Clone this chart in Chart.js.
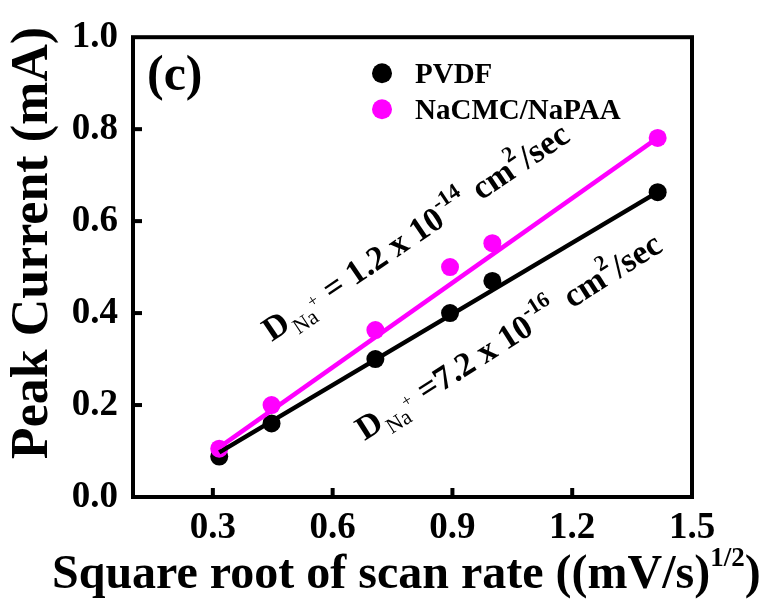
<!DOCTYPE html>
<html lang="en">
<head>
    <meta charset="UTF-8">
    <title>Peak Current vs Scan Rate</title>
    <script src="https://cdn.jsdelivr.net/npm/chart.js"></script>
    <style>
        body { margin: 0; background: #fff; }
        #chart { display: block; }
    </style>
</head>
<body>
    <canvas id="chart" width="774" height="604"></canvas>
    <script>
        // square root of scan rate, (mV/s)^1/2
        const sqrtRate = [0.316, 0.447, 0.707, 0.894, 1.0, 1.414];
        const pvdf = [0.088, 0.16, 0.30, 0.40, 0.47, 0.663];
        const nacmc = [0.105, 0.20, 0.363, 0.50, 0.552, 0.781];

        // linear fit lines (end points)
        const fitX = [0.316, 1.414];
        const pvdfFit = [0.097, 0.663];
        const nacmcFit = [0.108, 0.781];

        const xTicks = [0.3, 0.6, 0.9, 1.2, 1.5];
        const yTicks = [0.0, 0.2, 0.4, 0.6, 0.8, 1.0];

        const FONT = '"Liberation Serif", "Times New Roman", serif';
        const PINK = '#ff00ff';

        const toPts = (xs, ys) => xs.map((x, i) => ({ x: x, y: ys[i] }));

        // draw a run of text pieces (sub/superscripts) along a rotated baseline
        function drawRich(ctx, parts, x, y, angle) {
            ctx.save();
            ctx.translate(x, y);
            ctx.rotate(angle * Math.PI / 180);
            ctx.fillStyle = '#000';
            ctx.textBaseline = 'alphabetic';
            ctx.textAlign = 'left';
            let cx = 0;
            parts.forEach(p => {
                ctx.font = (p.w || 'bold') + ' ' + p.s + 'px ' + FONT;
                cx += p.dx || 0;
                ctx.fillText(p.t, cx, p.dy || 0);
                cx += ctx.measureText(p.t).width;
            });
            ctx.restore();
            return cx;
        }

        const annotations = [
            { x: 0.4475, y: 0.337, angle: -34, parts: [
                { t: 'D', s: 34 },
                { t: 'Na', s: 22, w: 'normal', dy: 9, dx: 2 },
                { t: '+', s: 17, w: 'normal', dy: -6 },
                { t: ' = 1.2 x 10', s: 34, dx: 2 },
                { t: '-14', s: 22, dy: -16 },
                { t: ' cm', s: 34, dx: 4 },
                { t: '2', s: 22, dy: -16 },
                { t: '/sec', s: 34, dx: 2 }
            ]},
            { x: 0.68, y: 0.122, angle: -32.5, parts: [
                { t: 'D', s: 34 },
                { t: 'Na', s: 22, w: 'normal', dy: 9, dx: 2 },
                { t: '+', s: 17, w: 'normal', dy: -6 },
                { t: ' =7.2 x 10', s: 34, dx: 2 },
                { t: '-16', s: 22, dy: -16 },
                { t: ' cm', s: 34, dx: 6 },
                { t: '2', s: 22, dy: -16 },
                { t: '/sec', s: 34, dx: 2 }
            ]}
        ];

        const decorations = {
            id: 'decorations',
            afterDraw(chart) {
                const ctx = chart.ctx;
                const a = chart.chartArea;
                const xs = chart.scales.x, ys = chart.scales.y;
                ctx.save();

                // frame
                ctx.strokeStyle = '#000';
                ctx.lineWidth = 4;
                ctx.lineCap = 'square';
                ctx.strokeRect(a.left, a.top, a.right - a.left, a.bottom - a.top);

                // inward ticks
                ctx.lineCap = 'butt';
                yTicks.forEach(v => {
                    if (v <= 0 || v >= 1) return;
                    const py = ys.getPixelForValue(v);
                    ctx.beginPath(); ctx.moveTo(a.left, py); ctx.lineTo(a.left + 9, py); ctx.stroke();
                });
                xTicks.forEach(v => {
                    if (v >= 1.5) return;
                    const px = xs.getPixelForValue(v);
                    ctx.beginPath(); ctx.moveTo(px, a.bottom); ctx.lineTo(px, a.bottom - 9); ctx.stroke();
                });

                // panel label
                ctx.fillStyle = '#000';
                ctx.font = 'bold 50px ' + FONT;
                ctx.textAlign = 'left';
                ctx.textBaseline = 'alphabetic';
                ctx.fillText('(c)', a.left + 14, a.top + 53);

                // legend
                const legend = [['PVDF', '#000'], ['NaCMC/NaPAA', PINK]];
                legend.forEach((l, i) => {
                    const cy = a.top + 36 + i * 36;
                    ctx.beginPath();
                    ctx.arc(a.left + 249, cy, 10, 0, Math.PI * 2);
                    ctx.fillStyle = l[1];
                    ctx.fill();
                    ctx.fillStyle = '#000';
                    ctx.font = 'bold 29px ' + FONT;
                    ctx.fillText(l[0], a.left + 282, cy + 10);
                });

                // diffusion coefficient labels
                annotations.forEach(an => {
                    drawRich(ctx, an.parts, xs.getPixelForValue(an.x), ys.getPixelForValue(an.y), an.angle);
                });

                // y axis title
                ctx.save();
                ctx.translate(47, 243);
                ctx.rotate(-Math.PI / 2);
                ctx.textAlign = 'center';
                ctx.font = 'bold 52px ' + FONT;
                ctx.fillText('Peak Current (mA)', 0, 0);
                ctx.restore();

                // x axis title
                drawRich(ctx, [
                    { t: 'Square root of scan rate ((mV/s)', s: 48 },
                    { t: '1/2', s: 27, dy: -22 },
                    { t: ')', s: 48 }
                ], 52, 588, 0);

                ctx.restore();
            }
        };

        new Chart(document.getElementById('chart'), {
            type: 'scatter',
            data: {
                datasets: [
                    {
                        label: 'PVDF',
                        data: toPts(sqrtRate, pvdf),
                        backgroundColor: '#000',
                        borderWidth: 0,
                        pointRadius: 9,
                        order: 4
                    },
                    {
                        label: 'NaCMC/NaPAA',
                        data: toPts(sqrtRate, nacmc),
                        backgroundColor: PINK,
                        borderWidth: 0,
                        pointRadius: 9,
                        order: 3
                    },
                    {
                        label: 'PVDF fit',
                        data: toPts(fitX, pvdfFit),
                        showLine: true,
                        borderColor: '#000',
                        borderWidth: 4.5,
                        pointRadius: 0,
                        order: 2
                    },
                    {
                        label: 'NaCMC/NaPAA fit',
                        data: toPts(fitX, nacmcFit),
                        showLine: true,
                        borderColor: PINK,
                        borderWidth: 4.5,
                        pointRadius: 0,
                        order: 1
                    }
                ]
            },
            options: {
                responsive: false,
                animation: false,
                layout: { padding: { top: 31, right: 82, left: 0, bottom: 0 } },
                plugins: {
                    legend: { display: false },
                    tooltip: { enabled: false }
                },
                scales: {
                    x: {
                        type: 'linear',
                        min: 0.1,
                        max: 1.5,
                        afterBuildTicks: s => { s.ticks = xTicks.map(v => ({ value: v })); },
                        afterFit: s => { s.height = 107; },
                        grid: { display: false, drawTicks: false },
                        border: { display: false },
                        ticks: {
                            autoSkip: false,
                            maxRotation: 0,
                            padding: 9,
                            color: '#000',
                            font: { family: FONT, size: 37, weight: 'bold' },
                            callback: v => v.toFixed(1)
                        }
                    },
                    y: {
                        type: 'linear',
                        min: 0,
                        max: 1.0,
                        afterBuildTicks: s => { s.ticks = yTicks.map(v => ({ value: v })); },
                        afterFit: s => { s.width = 133; },
                        grid: { display: false, drawTicks: false },
                        border: { display: false },
                        ticks: {
                            autoSkip: false,
                            padding: 15,
                            color: '#000',
                            font: { family: FONT, size: 37, weight: 'bold' },
                            callback: v => v.toFixed(1)
                        }
                    }
                }
            },
            plugins: [decorations]
        });
    </script>
</body>
</html>
